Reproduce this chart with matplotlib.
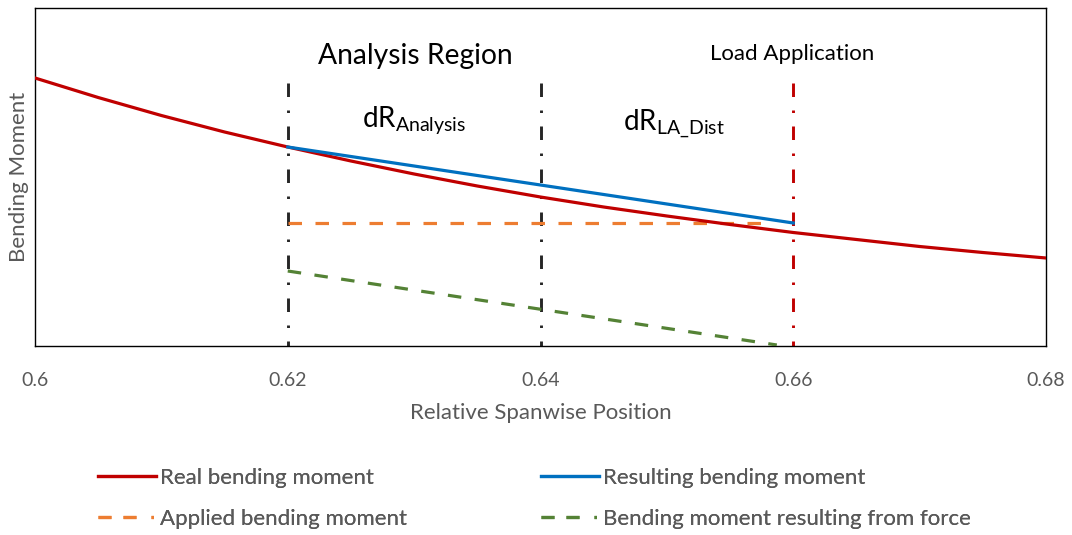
import matplotlib
matplotlib.use("Agg")
import matplotlib.pyplot as plt
from matplotlib.lines import Line2D

plt.rcParams['font.family'] = ['Lato', 'DejaVu Sans']
plt.rcParams['mathtext.fontset'] = 'custom'
plt.rcParams['mathtext.rm'] = 'Lato'
plt.rcParams['mathtext.it'] = 'Lato'

# ---- data (arbitrary bending-moment units) ----
real_x = [0.600, 0.605, 0.610, 0.615, 0.620, 0.625, 0.630, 0.635, 0.640,
          0.645, 0.650, 0.655, 0.660, 0.665, 0.670, 0.675, 0.680]
real_y = [268, 248.5, 230.5, 214, 199, 185, 172, 160, 149,
          139, 130, 121.5, 113.5, 106.5, 99.5, 93.5, 88]

result_x = [0.620, 0.660]
result_y = [199, 123]

applied_x = [0.620, 0.6584]
applied_y = [123, 123]

force_x = [0.620, 0.6587]
force_y = [75, 1]

region_x = [0.62, 0.64]
load_x = 0.66
vline_top = 263

xticks = [0.6, 0.62, 0.64, 0.66, 0.68]
xtick_labels = ['0.6', '0.62', '0.64', '0.66', '0.68']

RED = '#C00000'
BLUE = '#0070C0'
ORANGE = '#ED7D31'
GREEN = '#548235'
DARK = '#262626'
GREY = '#595959'

PT = 0.72  # points per pixel at 100 dpi

def pattern(px_list, lw):
    """dash pattern given in pixels, converted to linewidth units"""
    return (0, tuple(p * PT / lw for p in px_list))

fig = plt.figure(figsize=(10.72, 5.35), dpi=100)
ax = fig.add_axes([35/1072, 1 - 346/535, (1046-35)/1072, (346-8)/535])

VLW = 2.1
vdash = pattern([13.5, 13.5, 2.5, 13.5], VLW)
for xv in region_x:
    ax.plot([xv, xv], [vline_top, 0], color=DARK, lw=VLW, ls=vdash, zorder=2)
ax.plot([load_x, load_x], [vline_top, 0], color=RED, lw=VLW, ls=vdash, zorder=2)

LW = 2.3
dash = pattern([13.5, 13.5], LW)
ax.plot(applied_x, applied_y, color=ORANGE, lw=LW, ls=dash, zorder=3)
ax.plot(force_x, force_y, color=GREEN, lw=LW, ls=dash, zorder=3)
ax.plot(real_x, real_y, color=RED, lw=LW, zorder=4)
ax.plot(result_x, result_y, color=BLUE, lw=LW, zorder=5)

ax.set_xlim(0.6, 0.68)
ax.set_ylim(0, 338)
ax.set_xticks(xticks)
ax.set_xticklabels(xtick_labels)
ax.set_yticks([])
ax.tick_params(axis='x', length=0, pad=19, labelsize=14, labelcolor=GREY)
for s in ax.spines.values():
    s.set_color('black')
    s.set_linewidth(1.0)

ax.set_xlabel('Relative Spanwise Position', fontsize=16, color=GREY, labelpad=10)
ax.set_ylabel('Bending Moment', fontsize=16, color=GREY, labelpad=4)

ax.text(0.6301, 290, 'Analysis Region', fontsize=20.3, ha='center', va='center', color='black')
ax.text(0.6599, 292, 'Load Application', fontsize=16, ha='center', va='center', color='black')
ax.text(0.6259, 226, r'dR$_{\mathrm{Analysis}}$', fontsize=20, ha='left', va='center', color='black')
ax.text(0.6465, 222, r'dR$_{\mathrm{LA\_Dist}}$', fontsize=20, ha='left', va='center', color='black')

HLW = 2.3
leg_dash = pattern([13, 12, 13, 15, 2.5, 10], HLW)
col1_handles = [Line2D([], [], color=RED, lw=HLW),
                Line2D([], [], color=ORANGE, lw=HLW, ls=leg_dash)]
col1_labels = ['Real bending moment', 'Applied bending moment']
col2_handles = [Line2D([], [], color=BLUE, lw=HLW),
                Line2D([], [], color=GREEN, lw=HLW, ls=leg_dash)]
col2_labels = ['Resulting bending moment', 'Bending moment resulting from force']

for hs, ls_, x0 in [(col1_handles, col1_labels, 98), (col2_handles, col2_labels, 541)]:
    lg = fig.legend(hs, ls_, loc='center left',
                    bbox_to_anchor=(x0/1072, 1 - 498.5/535), frameon=False,
                    fontsize=16, handlelength=2.6, handletextpad=0.2,
                    labelspacing=0.95, borderpad=0, borderaxespad=0)
    for t in lg.get_texts():
        t.set_color(GREY)
    fig.add_artist(lg)

fig.savefig('out.png', dpi=100)
